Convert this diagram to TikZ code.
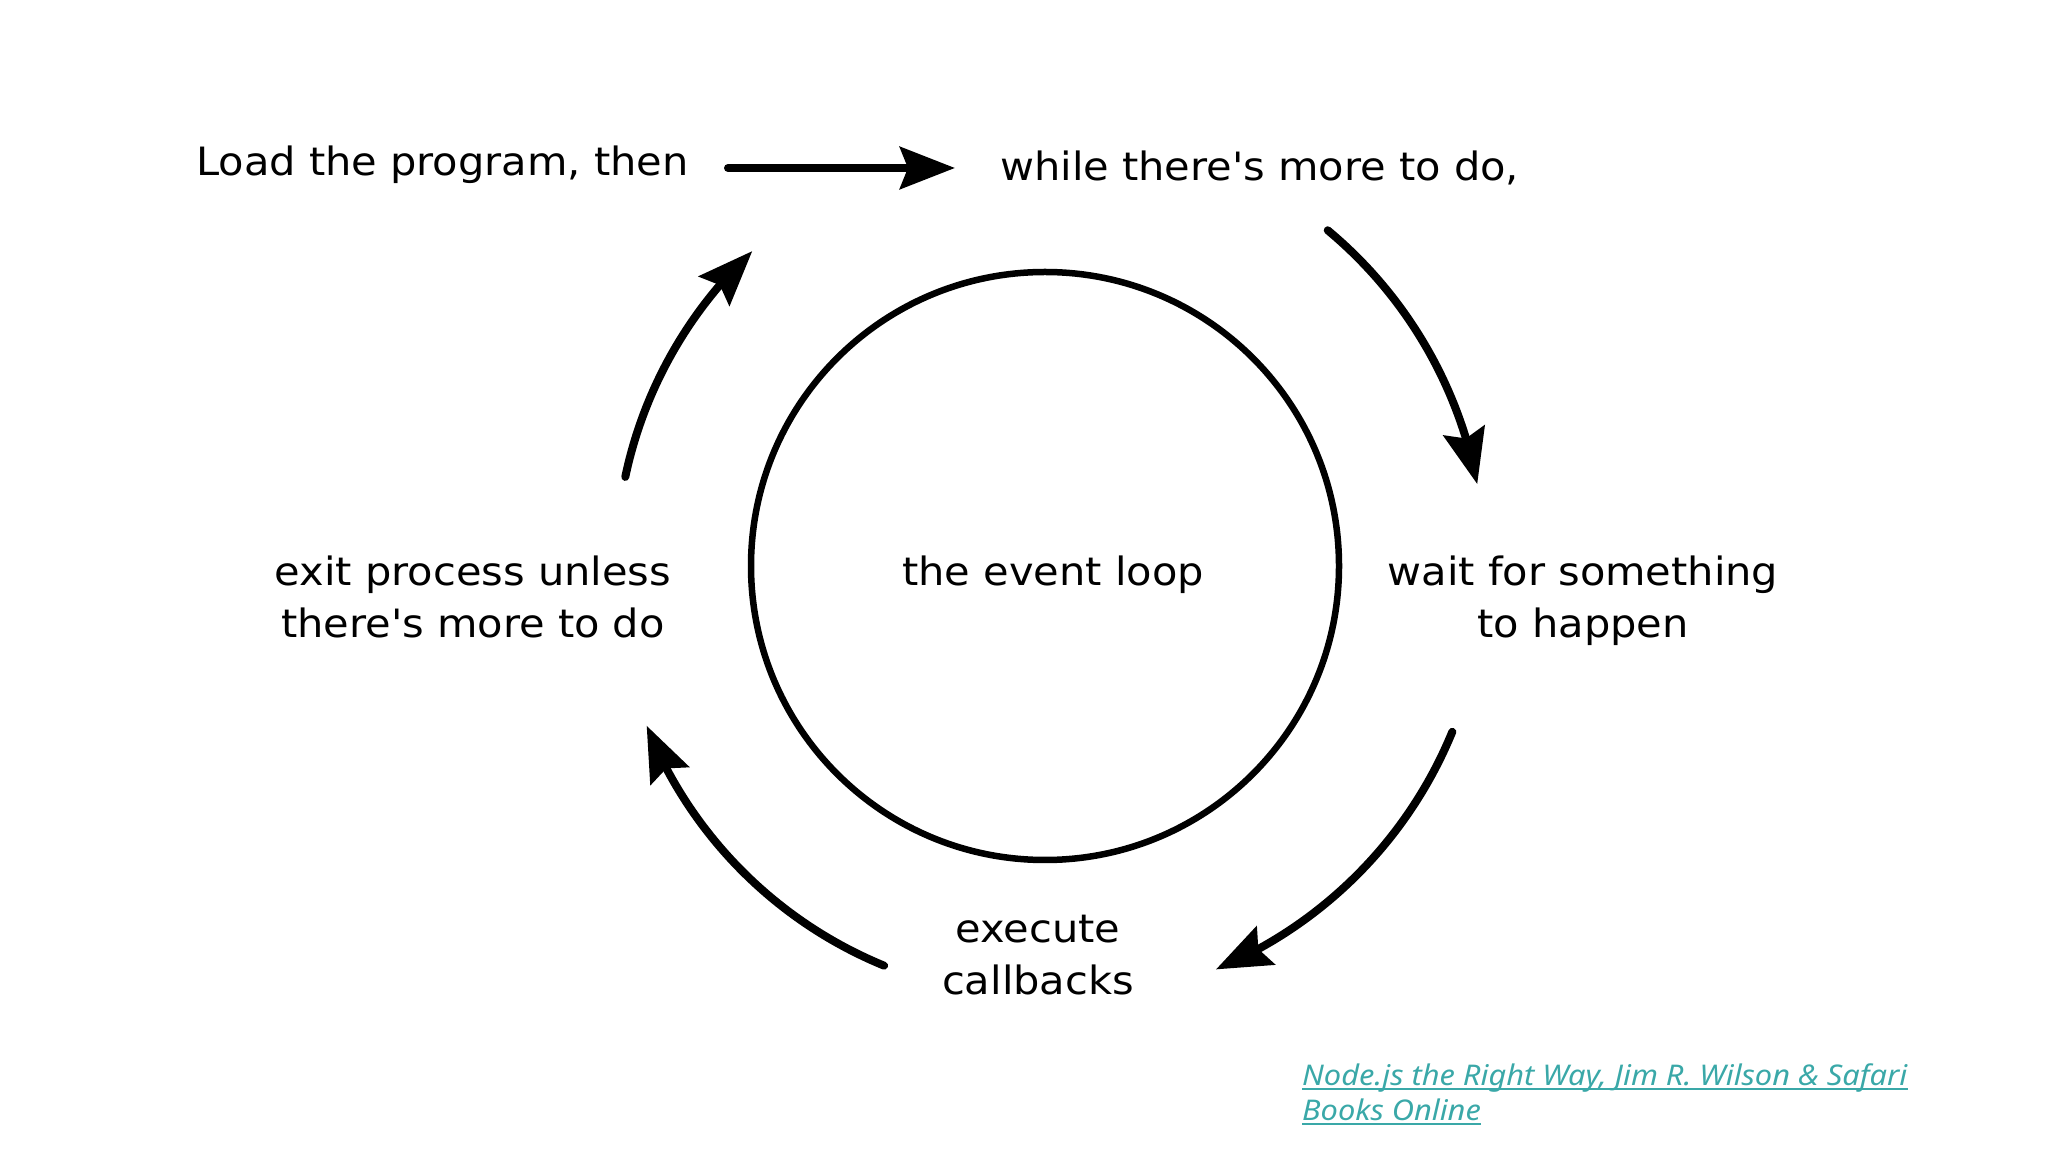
\documentclass[tikz,border=0pt]{standalone}
\usepackage{fontspec}
\setmainfont{DejaVu Sans}[Ligatures=TeXOff, FakeStretch=1.065]
\newfontfamily\citefont{Noto Sans}[FakeStretch=1.08]
\usetikzlibrary{arrows.meta,bending}
\definecolor{citeteal}{HTML}{3AA8A8}
\tikzset{
  lbl/.style={font=\fontsize{39}{52}\selectfont, inner sep=0pt, align=center},
  arr/.style={line width=8pt, line cap=round, -{Stealth[length=55pt,width=42pt,inset=8pt,flex]}},
  cite/.style={font=\citefont\itshape\fontsize{28.5}{36}\selectfont, text=citeteal, inner sep=0pt, anchor=base west},
}
\begin{document}
\begin{tikzpicture}[x=1pt,y=1pt]
\useasboundingbox (0,0) rectangle (2048,1152);
\coordinate (c) at (1048,586);
\node[lbl, anchor=base west] (load) at (196,976) {Load the program, then};
\node[lbl, anchor=base west] (while) at (1000,971) {while there's more to do,};
\node[lbl, anchor=base] (loop) at (1053,566) {the event loop};
\node[lbl, anchor=base] (wait) at (1583,514) {wait for something\\to happen};
\node[lbl, anchor=base] (exit) at (473,514) {exit process unless\\there's more to do};
\node[lbl, anchor=base] (exec) at (1038,158) {execute\\callbacks};
\draw[line width=6.5pt] (1045,586) circle[radius=294];
\coordinate (a1) at (728,984);
\coordinate (a2) at (955,984);
\draw[arr] (a1) -- (a2);
\draw[arr] (c) ++(50.2:437) arc[start angle=50.2, end angle=10.8, radius=437];
\draw[arr] (c) ++(-22.3:437) arc[start angle=-22.3, end angle=-67.4, radius=437];
\draw[arr] (c) ++(-112.3:432) arc[start angle=-112.3, end angle=-158.3, radius=432];
\draw[arr] (c) ++(168.1:432) arc[start angle=168.1, end angle=133.2, radius=432];
\node[cite] (cite1) at (1302,67) {Node.js the Right Way, Jim R. Wilson \& Safari};
\node[cite] (cite2) at (1302,32) {Books Online};
\draw[citeteal, line width=1.5pt] ([yshift=-4pt]cite1.base west) -- ([yshift=-4pt]cite1.base east);
\draw[citeteal, line width=1.5pt] ([yshift=-4pt]cite2.base west) -- ([yshift=-4pt]cite2.base east);
\end{tikzpicture}
\end{document}
